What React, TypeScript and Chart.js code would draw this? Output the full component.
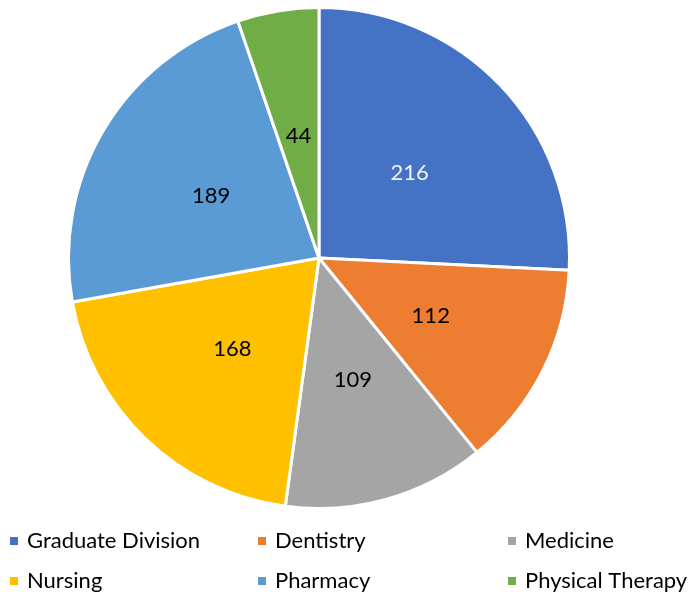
import React, { useEffect, useRef } from "react";
import { Chart, registerables } from "chart.js";

Chart.register(...registerables);

const categories = ["Graduate Division", "Dentistry", "Medicine", "Nursing", "Pharmacy", "Physical Therapy"];
const values = [216, 112, 109, 168, 189, 44];
const colors = ["#4472C4", "#ED7D31", "#A5A5A5", "#FFC000", "#5B9BD5", "#70AD47"];
const labelColors = ["#F2F2F2", "#000000", "#000000", "#000000", "#000000", "#000000"];

const FONT = "Lato, 'Open Sans', sans-serif";

const dataLabelPlugin = {
  id: "dataLabels",
  afterDatasetsDraw(chart: any) {
    const ctx = chart.ctx;
    const meta = chart.getDatasetMeta(0);
    ctx.save();
    ctx.font = `22px ${FONT}`;
    ctx.textAlign = "center";
    ctx.textBaseline = "middle";
    meta.data.forEach((arc: any, i: number) => {
      const p = arc.tooltipPosition();
      ctx.fillStyle = labelColors[i];
      ctx.fillText(String(values[i]), p.x, p.y + 1);
    });
    ctx.restore();
  },
};

const gridLegendPlugin = {
  id: "gridLegend",
  afterDraw(chart: any) {
    const ctx = chart.ctx;
    const colX = [10, 258, 508];
    const rowY = [541, 581];
    ctx.save();
    ctx.font = `22px ${FONT}`;
    ctx.textBaseline = "middle";
    ctx.textAlign = "left";
    categories.forEach((c, i) => {
      const x = colX[i % 3];
      const y = rowY[Math.floor(i / 3)];
      ctx.fillStyle = colors[i];
      ctx.fillRect(x, y - 4, 8, 8);
      ctx.fillStyle = "#000000";
      ctx.fillText(c, x + 17, y);
    });
    ctx.restore();
  },
};

export default function App() {
  const ref = useRef<HTMLCanvasElement>(null);
  useEffect(() => {
    document.body.style.margin = "0";
    const chart = new Chart(ref.current!, {
      type: "pie",
      data: {
        labels: categories,
        datasets: [
          {
            data: values,
            backgroundColor: colors,
            borderColor: "#FFFFFF",
            borderWidth: 3,
          },
        ],
      },
      options: {
        animation: false,
        responsive: false,
        maintainAspectRatio: false,
        layout: { padding: { left: 66, right: 118, top: 6, bottom: 84 } },
        plugins: {
          legend: { display: false },
          tooltip: { enabled: false },
        },
      },
      plugins: [dataLabelPlugin, gridLegendPlugin],
    });
    return () => chart.destroy();
  }, []);
  return (
    <div style={{ position: "absolute", left: 0, top: 0, width: 690, height: 594, background: "#fff" }}>
      <canvas ref={ref} width={690} height={594} style={{ width: 690, height: 594 }} />
    </div>
  );
}
